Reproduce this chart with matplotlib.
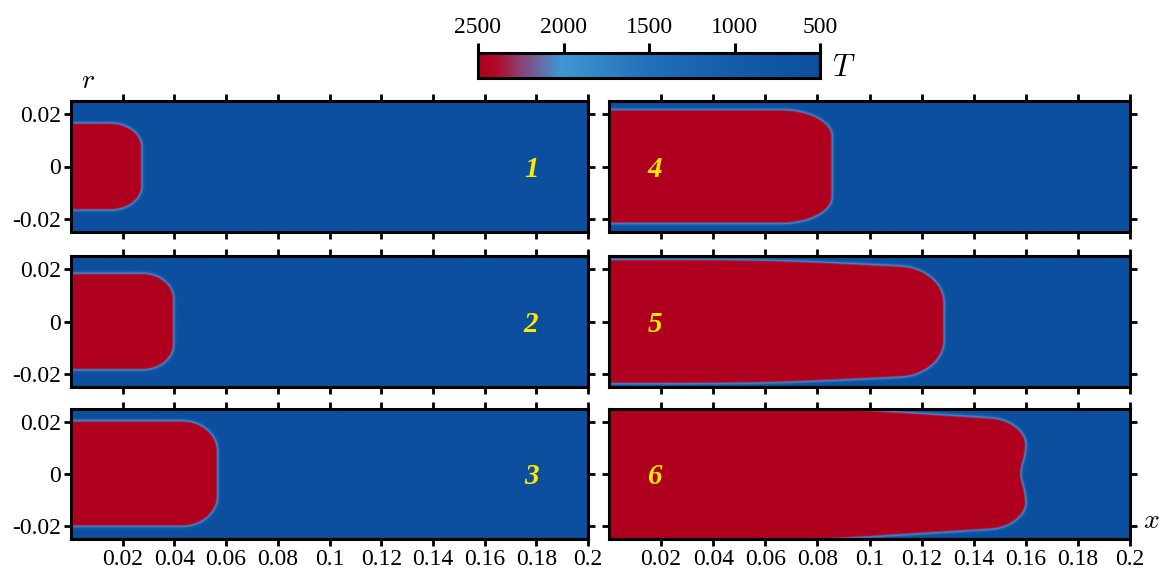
import numpy as np
import matplotlib.pyplot as plt
from matplotlib.colors import LinearSegmentedColormap

plt.rcParams['font.family'] = ['Liberation Serif', 'DejaVu Serif']
plt.rcParams['mathtext.fontset'] = 'cm'

# hot-zone shape per panel (metres), panels 1-3 left column, 4-6 right column
panel_ids = ['1', '2', '3', '4', '5', '6']
front_x = [0.0277, 0.0400, 0.0570, 0.0860, 0.1290, 0.1605]
half_width = [0.0170, 0.0188, 0.0205, 0.0221, 0.0241, 0.0265]
taper_start = [0.3, 0.3, 0.3, 0.3, 0.061, 0.069]
taper_slope = [0.0, 0.0, 0.0, 0.0, 0.049, 0.0625]
corner_x = [0.0127, 0.0125, 0.0140, 0.0200, 0.0170, 0.0140]
corner_r = [0.0095, 0.0100, 0.0120, 0.0105, 0.0135, 0.0100]
front_dip = [0.0, 0.0, 0.0, 0.0, 0.0, 0.0020]
T_hot = 2500
T_cold = 500

x_ticks = [0.02, 0.04, 0.06, 0.08, 0.1, 0.12, 0.14, 0.16, 0.18, 0.2]
x_labels = ['0.02', '0.04', '0.06', '0.08', '0.1', '0.12', '0.14', '0.16', '0.18', '0.2']
r_ticks = [-0.02, 0, 0.02]
r_labels = ['-0.02', '0', '0.02']
cbar_ticks = [2500, 2000, 1500, 1000, 500]

cmap = LinearSegmentedColormap.from_list('temp', [
    (0.0, '#0c4f9e'), (0.25, '#145ca9'), (0.5, '#236fb9'),
    (0.76, '#3f98d2'), (0.87, '#86487c'), (0.95, '#b00a26'), (1.0, '#b00020')])


def temperature_field(i, xs, rs):
    X, Rr = np.meshgrid(xs, rs)
    k = 0.01
    ramp = k * np.log1p(np.exp((X - taper_start[i]) / k))
    R = half_width[i] - taper_slope[i] * ramp
    xf = front_x[i] - front_dip[i] * np.exp(-(Rr / 0.006) ** 2)
    u = (X - (xf - corner_x[i])) / corner_x[i]
    v = (np.abs(Rr) - (R - corner_r[i])) / corner_r[i]
    f = np.where((u > 0) & (v > 0), np.sqrt(u ** 2 + v ** 2), np.maximum(u, v)) - 1
    gr, gx = np.gradient(f, rs, xs)
    d = f / np.sqrt(gx ** 2 + gr ** 2 + 1e-12)
    return T_cold + (T_hot - T_cold) * 0.5 * (1 - np.tanh(d / 0.0006))


fig = plt.figure(figsize=(11.61, 5.74), dpi=100)
W, H = 1161, 574

cols = [(71, 588), (609, 1130)]
rows = [(101, 232), (256, 387), (409, 539)]

xs = np.linspace(0, 0.2, 1400)
rs = np.linspace(-0.025, 0.025, 400)

for i in range(6):
    c, rw = divmod(i, 3)
    x0, x1 = cols[c]
    y0, y1 = rows[rw]
    ax = fig.add_axes([x0 / W, 1 - y1 / H, (x1 - x0) / W, (y1 - y0) / H])
    T = temperature_field(i, xs, rs)
    ax.imshow(T, extent=[0, 0.2, -0.025, 0.025], origin='lower', aspect='auto',
              cmap=cmap, vmin=T_cold, vmax=T_hot, interpolation='bilinear')
    ax.set_xlim(0, 0.2)
    ax.set_ylim(-0.025, 0.025)
    ax.set_xticks(x_ticks)
    ax.set_yticks(r_ticks)
    ax.set_xticklabels(x_labels if rw == 2 else [])
    ax.set_yticklabels(r_labels if c == 0 else [])
    ax.tick_params(direction='out', length=5, width=2, top=True, right=True,
                   labelsize=17, pad=2)
    for s in ax.spines.values():
        s.set_linewidth(2.2)
    lx = 0.178 if c == 0 else 0.0177
    ax.text(lx, -0.001, panel_ids[i], color='#ffe800', fontsize=21,
            fontstyle='italic', fontweight='bold', ha='center', va='center')

# colorbar, hot on the left
cax = fig.add_axes([478 / W, 1 - 78 / H, 342 / W, 25 / H])
tv = np.linspace(T_cold, T_hot, 400)
cax.imshow(tv[np.newaxis, :], extent=[T_cold, T_hot, 0, 1], aspect='auto',
           cmap=cmap, vmin=T_cold, vmax=T_hot)
cax.set_xlim(T_hot, T_cold)
cax.set_ylim(0, 1)
cax.set_yticks([])
cax.set_xticks(cbar_ticks)
cax.set_xticklabels([str(t) for t in cbar_ticks])
cax.xaxis.set_ticks_position('top')
cax.tick_params(direction='out', length=7, width=2.2, labelsize=17, pad=4)
for s in cax.spines.values():
    s.set_linewidth(2.2)

fig.text(844 / W, 1 - 68 / H, '$T$', fontsize=22, ha='center', va='center')
fig.text(88 / W, 1 - 81 / H, '$r$', fontsize=20, ha='center', va='center')
fig.text(1151 / W, 1 - 521 / H, '$x$', fontsize=20, ha='center', va='center')

fig.savefig('out.png', dpi=100)
